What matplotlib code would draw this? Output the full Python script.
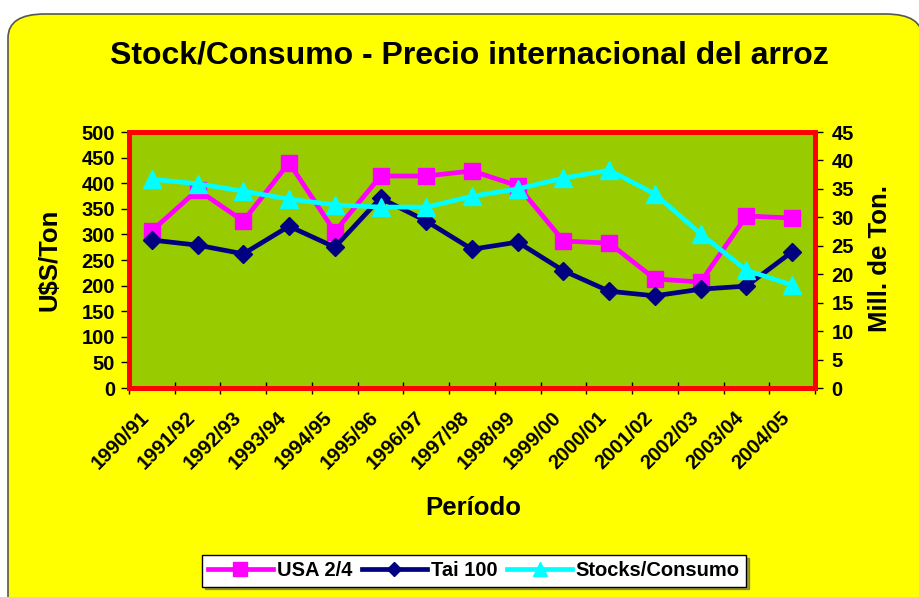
import matplotlib
matplotlib.use("Agg")
import matplotlib.pyplot as plt
import matplotlib.transforms as mtransforms
from matplotlib.patches import FancyBboxPatch
import numpy as np

plt.rcParams['font.family'] = ['Liberation Sans', 'DejaVu Sans']
plt.rcParams['font.weight'] = 'bold'

periods = ["1990/91", "1991/92", "1992/93", "1993/94", "1994/95", "1995/96", "1996/97",
           "1997/98", "1998/99", "1999/00", "2000/01", "2001/02", "2002/03", "2003/04", "2004/05"]
usa = [307, 387, 326, 440, 305, 414, 414, 424, 395, 287, 283, 213, 207, 336, 332]
tai = [289, 279, 262, 316, 275, 371, 326, 271, 285, 229, 189, 180, 193, 199, 266]
stocks = [36.7, 35.9, 34.6, 33.2, 32.2, 31.8, 31.8, 33.7, 35.0, 36.9, 38.3, 34.1, 27.1, 20.7, 18.1]

W, H = 919, 597
fig = plt.figure(figsize=(W/100, H/100), dpi=100)
fig.patch.set_facecolor('white')

bg = FancyBboxPatch((8/W, -0.05), 0.995, (H-14)/H + 0.05,
                    boxstyle="round,pad=0,rounding_size=0.04",
                    transform=fig.transFigure, facecolor='#FFFF00',
                    edgecolor='#555555', linewidth=1.2, zorder=-10)
fig.patches.append(bg)

L, R, T, B = 129, 815, 132, 388
ax = fig.add_axes([L/W, 1-B/H, (R-L)/W, (B-T)/H])
ax.set_facecolor('#99CC00')
x = np.arange(len(periods)) + 0.5

ax.plot(x, usa, color='#FF00FF', marker='s', markersize=12, linewidth=3.4, label='USA 2/4', zorder=3)
ax.plot(x, tai, color='#000080', marker='D', markersize=9, linewidth=3.4, label='Tai 100', zorder=3)

ax.set_xlim(0, len(periods))
ax.set_ylim(0, 500)
ax.set_yticks(np.arange(0, 501, 50))
ax.set_xticks(np.arange(0, len(periods) + 1))
ax.set_xticklabels([])
ax.set_xticks(x, minor=True)
ax.set_xticklabels(periods, minor=True, rotation=45, ha='right', rotation_mode='anchor',
                   fontsize=14.5, fontweight='bold')
ax.tick_params(axis='x', which='minor', length=0, pad=7)
ax.tick_params(axis='x', which='major', direction='inout', length=8, width=1)
ax.tick_params(axis='y', direction='out', length=6, width=1, labelsize=14.5, pad=4)
offset = mtransforms.ScaledTranslation(-12/100, -10/100, fig.dpi_scale_trans)
for lab in ax.get_xticklabels(minor=True):
    lab.set_transform(lab.get_transform() + offset)
for lab in ax.get_yticklabels():
    lab.set_fontweight('bold')
for s in ax.spines.values():
    s.set_color('#FF0000')
    s.set_linewidth(3.5)

ax2 = ax.twinx()
ax2.plot(x, stocks, color='#00FFFF', marker='^', markersize=13, linewidth=3.4, label='Stocks/Consumo', zorder=4)
ax2.set_ylim(0, 45)
ax2.set_yticks(np.arange(0, 46, 5))
ax2.tick_params(axis='y', direction='out', length=6, width=1, labelsize=14.5, pad=6)
for lab in ax2.get_yticklabels():
    lab.set_fontweight('bold')
for s in ax2.spines.values():
    s.set_color('#FF0000')
    s.set_linewidth(3.5)

fig.text(50/W, 1-260/H, 'U$S/Ton', rotation=90, ha='center', va='center', fontsize=18.5, fontweight='bold')
fig.text(880/W, 1-259/H, 'Mill. de Ton.', rotation=90, ha='center', va='center', fontsize=18.5, fontweight='bold')

fig.text(469/W, 1-55/H, 'Stock/Consumo - Precio internacional del arroz',
         ha='center', va='center', fontsize=23, fontweight='bold')
fig.text(473/W, 1-508/H, 'Período', ha='center', va='center', fontsize=18.5, fontweight='bold')

h1, l1 = ax.get_legend_handles_labels()
h2, l2 = ax2.get_legend_handles_labels()
leg = fig.legend(h1 + h2, l1 + l2, loc='center', bbox_to_anchor=(474/W, 1-571/H),
                 ncol=3, frameon=True, fancybox=False, shadow=True, fontsize=14.5,
                 handlelength=3.2, handletextpad=0.2, columnspacing=0.5, borderpad=0.3,
                 markerscale=0.8)
leg.get_frame().set_edgecolor('black')
leg.get_frame().set_linewidth(1)
for t in leg.get_texts():
    t.set_fontweight('bold')

fig.savefig('out.png', dpi=100, facecolor=fig.get_facecolor())
